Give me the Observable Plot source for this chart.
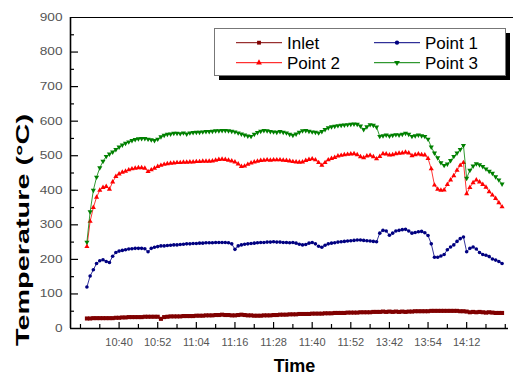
<!DOCTYPE html>
<html><head><meta charset="utf-8">
<script src="https://cdn.jsdelivr.net/npm/d3@7"></script>
<script src="https://cdn.jsdelivr.net/npm/@observablehq/plot@0.6"></script>
<style>
body{margin:0;background:#fff;}
#wrap{position:relative;width:513px;height:374px;font-family:"Liberation Sans",Arial,sans-serif;}
#legend{position:absolute;left:214px;top:28px;}
</style></head><body><div id="wrap"></div>
<script>
const seriesNames = ["Inlet", "Point 1", "Point 2", "Point 3"];
const seriesColors = ["#800000", "#000080", "#ff0000", "#008000"];

const inlet = [29,29,30,30,30,30,30,30,30,31,31,
32,32,33,33,33,33,33,34,34,34,34,34,
28,33,
34,35,35,35,35,36,36,36,36,37,37,37,38,38,38,39,
39,40,39,39,38,38,39,40,39,38,38,37,37,37,38,38,38,39,39,40,
40,40,41,41,41,42,42,42,42,43,43,43,43,44,44,44,45,45,45,45,
46,46,46,46,47,47,47,47,48,48,48,49,48,49,48,49,48,49,48,49,
49,50,50,50,50,50,51,51,51,51,51,51,51,51,51,50,50,49,47,48,47,48,47,46,47,46,45,45,45];

const point1 = [120,152,170,188,196,199,194,191,209,220,
224,226,228,230,231,232,232,232,231,222,
232,235,237,239,239,240,241,242,242,243,
244,245,245,246,246,247,247,248,248,248,
249,249,249,249,248,245,229,239,242,244,
245,246,247,248,249,249,250,250,251,250,
250,249,249,248,249,247,244,242,243,247,
249,245,238,235,241,245,247,248,250,251,
252,253,254,255,256,256,255,254,253,252,
251,276,284,282,270,276,282,284,286,287,
282,276,278,280,281,277,269,245,206,206,
210,214,228,236,242,252,260,265,222,232,
236,230,220,214,212,208,201,198,194,188];

const point2 = [237,310,350,380,400,408,411,403,424,440,
447,452,455,459,462,464,465,465,464,454,
459,464,469,472,475,477,478,479,480,480,
481,481,482,482,483,483,484,484,484,485,
487,489,490,489,487,485,482,476,469,470,
475,479,482,484,486,487,488,487,488,488,
488,487,486,485,483,482,481,482,486,489,
491,488,480,472,480,488,492,495,499,501,
503,504,505,506,503,497,494,499,501,497,
491,498,506,505,502,503,506,507,508,510,
508,500,503,505,503,502,492,462,415,403,
400,401,417,430,442,458,472,480,390,408,
422,430,424,417,409,396,386,376,364,352];

const point3 = [250,338,400,438,465,484,498,505,511,518,
525,531,536,540,544,547,549,550,550,548,
546,544,548,555,559,562,563,565,565,564,
566,563,566,567,568,568,569,570,570,571,
572,572,573,573,572,571,569,566,563,560,
557,556,562,567,571,573,572,570,569,568,
570,568,566,562,559,563,568,572,573,571,
569,568,566,570,576,581,584,585,587,588,
589,590,591,592,591,586,576,584,590,588,
583,556,558,560,557,559,561,560,562,565,
562,556,558,560,558,556,548,525,508,494,
480,472,476,486,498,508,518,530,435,458,
470,477,474,469,462,455,449,439,430,418];

const tickLabels = ["10:40","10:52","11:04","11:16","11:28","11:40","11:52","13:42","13:54","14:12"];
const yTicks = [0,100,200,300,400,500,600,700,800,900];
const yMinorTicks = [50,150,250,350,450,550,650,750,850];
const xLabel = "Time";
const yLabel = "Temperature (°C)";

// sample-index axis: one tick every 6 samples, a label on every second tick
const xDomain = [-5.1, 131];
const allTicks = d3.range(-2, 131, 6);
const labelTicks = d3.range(10, 119, 12);
const minorXTicks = allTicks.filter(t => !labelTicks.includes(t));

const valuesBySeries = [inlet, point1, point2, point3];
const rows = [];
seriesNames.forEach((name, k) => valuesBySeries[k].forEach((v, i) => rows.push({series: name, sample: i, temp: v})));

const sqrt3 = Math.sqrt(3);
const triangleDown = {
  draw(context, size) {
    const y = -Math.sqrt(size / (sqrt3 * 3));
    context.moveTo(0, -y * 2);
    context.lineTo(-sqrt3 * y, y);
    context.lineTo(sqrt3 * y, y);
    context.closePath();
  }
};
const seriesSymbols = [d3.symbolSquare, d3.symbolCircle, d3.symbolTriangle, triangleDown];
const seriesR = [2.3, 1.8, 1.9, 1.9];

const seriesMarks = [];
seriesNames.forEach((name, k) => {
  const data = rows.filter(r => r.series === name);
  seriesMarks.push(Plot.line(data, {x: "sample", y: "temp", stroke: seriesColors[k], strokeWidth: k === 0 ? 2 : 0.8}));
  seriesMarks.push(Plot.dot(data, {x: "sample", y: "temp", fill: seriesColors[k], stroke: "none", symbol: seriesSymbols[k], r: seriesR[k]}));
});

const W = 513, H = 374, mL = 70, mR = 5, mT = 17, mB = 46;
const frameW = W - mL - mR, frameH = H - mT - mB;

const chart = Plot.plot({
  width: W, height: H,
  marginLeft: mL, marginRight: mR, marginTop: mT, marginBottom: mB,
  style: {fontFamily: "'Liberation Sans', Arial, sans-serif", background: "white", overflow: "visible"},
  x: {domain: xDomain},
  y: {domain: [0, 900]},
  marks: [
    ...seriesMarks,
    Plot.axisY({ticks: yTicks, tickSize: 0, tickPadding: 8, label: null, fontSize: 10.5, color: "#555"}),
    Plot.axisX({ticks: labelTicks, tickSize: 0, tickPadding: 10, label: null, fontSize: 11, color: "#555",
      tickFormat: d => tickLabels[labelTicks.indexOf(d)]}),
    Plot.tickY(yTicks.filter(t => t > 0 && t < 900), {y: d => d, insetRight: frameW - 8, stroke: "black", strokeWidth: 1.2}),
    Plot.tickY(yMinorTicks, {y: d => d, insetRight: frameW - 4, stroke: "black", strokeWidth: 1.2}),
    Plot.tickX(labelTicks, {x: d => d, insetTop: frameH - 6, stroke: "black", strokeWidth: 1.2}),
    Plot.tickX(minorXTicks, {x: d => d, insetTop: frameH - 4, stroke: "black", strokeWidth: 1.2}),
    Plot.ruleX([xDomain[0]], {stroke: "black", strokeWidth: 1.6}),
    Plot.ruleY([0], {stroke: "black", strokeWidth: 1.6}),
    Plot.ruleY([900], {stroke: "black", strokeWidth: 1.2, insetRight: -mR}),
    Plot.text([yLabel], {text: d => d, frameAnchor: "left", dx: -48, dy: 173, rotate: -90, textAnchor: "start", fontSize: 19, fontWeight: "bold", fill: "black"}),
    Plot.text([xLabel], {text: d => d, frameAnchor: "bottom", dx: 5, dy: 43, fontSize: 18, fontWeight: "bold", fill: "black"})
  ]
});

const wrap = document.getElementById("wrap");
wrap.appendChild(chart);

// stretch the y-axis texts like the original
d3.select(chart).selectAll('g[aria-label="y-axis tick label"] text').each(function() {
  const w = this.getComputedTextLength();
  this.setAttribute("textLength", (w * 1.3).toFixed(1));
  this.setAttribute("lengthAdjust", "spacingAndGlyphs");
});
d3.select(chart).selectAll("text").filter(function() { return this.textContent === yLabel; }).each(function() {
  this.setAttribute("textLength", "232");
  this.setAttribute("lengthAdjust", "spacingAndGlyphs");
});

// legend box
const lg = d3.select(wrap).append("svg").attr("id", "legend").attr("width", 300).attr("height", 56);
lg.append("rect").attr("x", 5).attr("y", 5).attr("width", 291).attr("height", 47).attr("fill", "black");
lg.append("rect").attr("x", 0.5).attr("y", 0.5).attr("width", 291).attr("height", 47).attr("fill", "white").attr("stroke", "#777").attr("stroke-width", 1);
const entries = [
  {k: 0, x: 22, y: 14.7}, {k: 1, x: 160, y: 14.7},
  {k: 2, x: 22, y: 34.7}, {k: 3, x: 160, y: 34.7}
];
entries.forEach(e => {
  const c = seriesColors[e.k];
  lg.append("line").attr("x1", e.x).attr("x2", e.x + 46).attr("y1", e.y).attr("y2", e.y).attr("stroke", c).attr("stroke-width", 1);
  lg.append("path").attr("transform", `translate(${e.x + 23},${e.y})`)
    .attr("d", d3.symbol().type(seriesSymbols[e.k]).size(Math.PI * 1.9 * 1.9 * 1.3)()).attr("fill", c);
  lg.append("text").attr("x", e.x + 51).attr("y", e.y).attr("dy", "0.36em")
    .attr("font-size", 17).attr("font-family", "'Liberation Sans', Arial, sans-serif").attr("fill", "black").text(seriesNames[e.k]);
});
</script></body></html>
